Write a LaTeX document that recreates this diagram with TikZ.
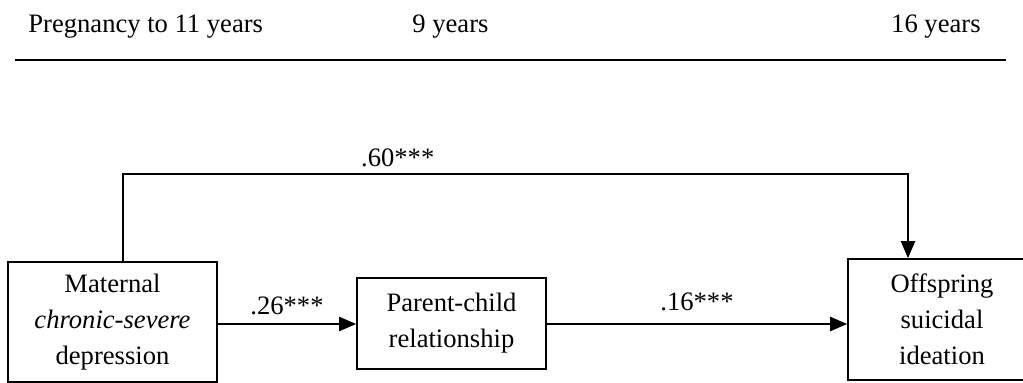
\documentclass[tikz,border=0pt]{standalone}
\usepackage{fontspec}
\setmainfont{Liberation Serif}
\usetikzlibrary{arrows.meta,positioning,calc}

\begin{document}
\begin{tikzpicture}[x=0.5pt, y=-0.5pt, line join=miter,
  font=\fontsize{13.3}{18}\selectfont,
  box/.style={draw, line width=0.8pt, align=center, inner sep=0pt},
  path arrow/.style={line width=1pt, -{Triangle[length=8.5pt,width=7pt]}},
  coef/.style={above, inner sep=0pt}]
\useasboundingbox (0,0) rectangle (1023,383);
% time line
\node[anchor=base west, inner sep=0pt] (t1) at (28,33) {Pregnancy to 11 years};
\node[anchor=base west, inner sep=0pt] (t2) at (412,33) {9 years};
\node[anchor=base east, inner sep=0pt] (t3) at (981,33) {16 years};
\draw[line width=1.2pt] (15,60) -- (1006,60);
% variables
\node[box, minimum width=104.5pt, minimum height=60pt] (mat) at (112.5,322) {Maternal\\\textit{chronic-severe}\\depression};
\node[box, minimum width=94.5pt, minimum height=45.5pt] (rel) at (451.5,323.5) {Parent-child\\relationship};
\node[box, minimum width=94pt, minimum height=60.5pt] (off) at (942,319.5) {Offspring\\suicidal\\ideation};
% paths
\coordinate (up) at (123,174);
\coordinate (dn) at (908,174);
\draw[path arrow] (mat.east |- 0,324) -- node[coef, yshift=4pt] {.26***} (rel.west |- 0,324);
\draw[path arrow] (rel.east |- 0,324) -- node[coef, yshift=6pt] {.16***} (off.west |- 0,324);
\draw[path arrow] (up |- mat.north) -- (up) -- node[coef, pos=0.35, yshift=3pt] {.60***} (dn) -- (dn |- off.north);
\end{tikzpicture}
\end{document}
